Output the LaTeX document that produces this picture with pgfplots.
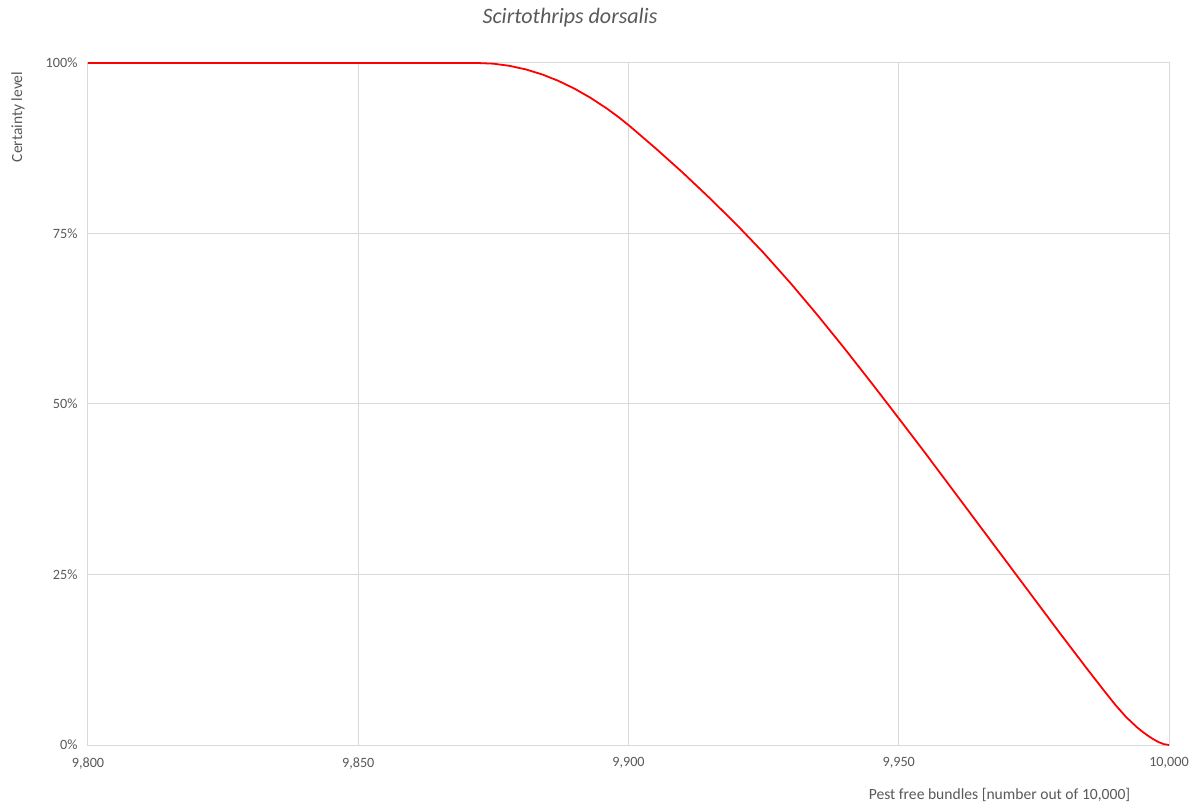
\documentclass[border=0pt]{standalone}
\usepackage{pgfplots}
\pgfplotsset{compat=1.18}
\usepackage{fontspec}
\setmainfont{Carlito}
\definecolor{txt}{HTML}{595959}
\definecolor{grd}{HTML}{D9D9D9}
\definecolor{crv}{HTML}{FF0000}
\begin{document}
\begin{tikzpicture}[x=1bp,y=1bp]
\path[use as bounding box] (-88bp,-57bp) rectangle (1107bp,745bp);
\begin{axis}[
  at={(0,0)}, anchor=south west,
  scale only axis, width=1081bp, height=682bp,
  xmin=9800, xmax=10000, ymin=0, ymax=100,
  xtick={9800,9850,9900,9950,10000},
  ytick={0,25,50,75,100},
  scaled x ticks=false,
  yticklabel={\pgfmathprintnumber{\tick}\%},
  /pgf/number format/assume math mode=true,
  /pgf/number format/.cd, 1000 sep={,}, /pgfplots/.cd,
  grid=major,
  major grid style={draw=grd, line width=1bp},
  axis line style={draw=grd, line width=1bp},
  tick style={draw=none},
  ticklabel style={font=\fontsize{14.2bp}{17bp}\selectfont, text=txt},
  xticklabel style={yshift=-9bp},
  yticklabel style={xshift=-7bp},
  clip=false,
  title={\itshape Scirtothrips dorsalis},
  title style={at={(axis description cs:0.4459,1.058)}, anchor=center, font=\fontsize{22bp}{26bp}\selectfont, text=txt},
  xlabel={Pest free bundles [number out of 10,000]},
  xlabel style={at={(axis description cs:0.8432,-0.0733)}, anchor=center, font=\fontsize{15.6bp}{18bp}\selectfont, text=txt},
  ylabel={Certainty level},
  ylabel style={at={(axis description cs:-0.0648,0.9208)}, anchor=center, rotate=0, font=\fontsize{15.5bp}{18bp}\selectfont, text=txt},
]
\addplot[crv, line width=1.8bp] coordinates {
(9800,100) (9872,100) (9875,99.9) (9878,99.58) (9881,99.06) (9884,98.33)
(9887,97.39) (9890,96.24) (9893,94.88) (9896,93.32) (9898,92.16) (9900,90.9)
(9905,87.5) (9910,83.95) (9915,80.2) (9920,76.3) (9925,72.15) (9930,67.7)
(9935,63.0) (9940,58.1) (9945,53.05) (9950,47.9) (9955,42.7) (9960,37.4)
(9965,32.1) (9970,26.8) (9975,21.5) (9980,16.2) (9985,11.0) (9988,7.95)
(9990,5.95) (9992,4.15) (9994,2.65) (9995,2.0) (9996,1.42) (9997,0.9)
(9998,0.45) (9999,0.13) (10000,0)
};
\end{axis}
\end{tikzpicture}
\end{document}
